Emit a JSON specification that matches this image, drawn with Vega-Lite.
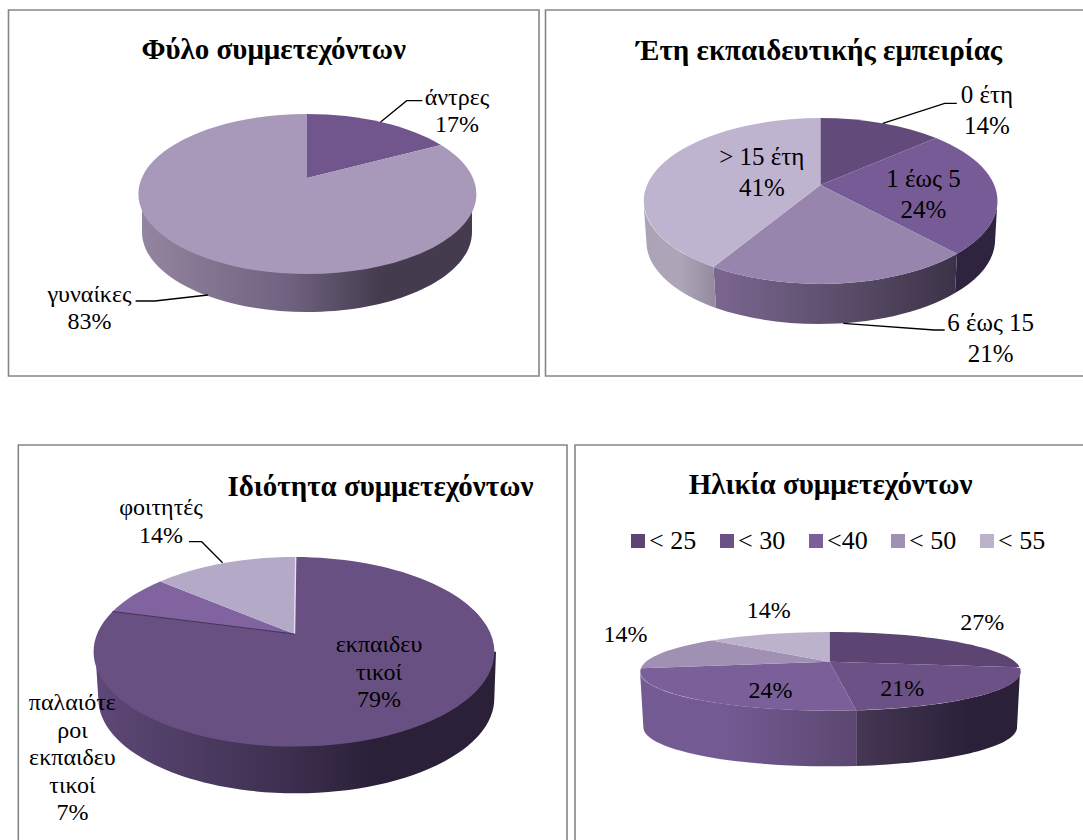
{"$schema":"https://vega.github.io/schema/vega-lite/v6.json","padding":{"left":5,"top":6,"right":0,"bottom":0},"background":"white","spacing":61,"resolve":{"scale":{"shape":"independent","fill":"independent"},"legend":{"fill":"independent","shape":"independent"}},"config":{"view":{"stroke":null},"font":"Liberation Serif","title":{"font":"Liberation Serif","fontSize":29,"fontWeight":"bold","color":"#000000","anchor":"middle","baseline":"alphabetic"},"text":{"font":"Liberation Serif","fontSize":24,"color":"#000000","align":"center","baseline":"alphabetic","lineBreak":"\n"},"point":{"opacity":1,"size":4}},"vconcat":[{"spacing":-3.5,"resolve":{"scale":{"shape":"independent","fill":"independent"},"legend":{"fill":"independent","shape":"independent"}},"hconcat":[{"width":537,"height":368,"title":{"text":"Φύλο συμμετεχόντων","offset":-58,"dx":-2.8},"data":{"values":[{"label":"άντρες","value":17,"text":"άντρες\n17%"},{"label":"γυναίκες","value":83,"text":"γυναίκες\n83%"}]},"layer":[{"transform":[{"filter":{"field":"label","equal":"άντρες"}}],"mark":{"type":"point","filled":false,"stroke":"#868686","strokeWidth":1.6,"shape":"M-268,-183L262.5,-183L262.5,183L-268,183Z"}},{"transform":[{"filter":{"field":"label","equal":"γυναίκες"}}],"mark":{"type":"point","filled":true,"shape":"M-134.5,1L-134.5,39A165,80,0,0,0,195.5,39L195.5,1Z","fill":{"gradient":"linear","x1":0,"y1":0,"x2":1,"y2":0,"stops":[{"offset":0,"color":"#93859f"},{"offset":0.45,"color":"#6f6280"},{"offset":0.72,"color":"#443c4e"},{"offset":1,"color":"#443c4e"}]}}},{"mark":{"type":"point","filled":true},"encoding":{"shape":{"field":"label","type":"nominal","legend":null,"scale":{"domain":["άντρες","γυναίκες"],"range":["M30.5,-15L30.5,-79A169,80,0,0,1,164.5,-48Z","M30.5,-15L164.5,-48A169,80,0,1,1,30.5,-79Z"]}},"fill":{"field":"label","type":"nominal","legend":null,"scale":{"domain":["άντρες","γυναίκες"],"range":["#70568c","#a898ba"]}}}},{"transform":[{"filter":{"field":"label","equal":"άντρες"}}],"mark":{"type":"point","filled":false,"stroke":"#000000","strokeWidth":1.3,"shape":"M104.1,-71L130.2,-92.3L145.8,-92.3"}},{"transform":[{"filter":{"field":"label","equal":"γυναίκες"}}],"mark":{"type":"point","filled":false,"stroke":"#000000","strokeWidth":1.3,"shape":"M-140.9,108L-121.8,108L-68.6,102"}},{"transform":[{"filter":{"field":"label","equal":"άντρες"}}],"mark":{"type":"text","dx":180.5,"dy":-88,"lineHeight":27},"encoding":{"text":{"field":"text"}}},{"transform":[{"filter":{"field":"label","equal":"γυναίκες"}}],"mark":{"type":"text","dx":-187,"dy":109,"lineHeight":27},"encoding":{"text":{"field":"text"}}}]},{"width":538,"height":368,"title":{"text":"Έτη εκπαιδευτικής εμπειρίας","offset":-59,"dx":5.2},"data":{"values":[{"label":"0 έτη","value":14,"text":"0 έτη\n14%"},{"label":"1 έως 5","value":24,"text":"1 έως 5\n24%"},{"label":"6 έως 15","value":21,"text":"6 έως 15\n21%"},{"label":"> 15 έτη","value":41,"text":"> 15 έτη\n41%"}]},"layer":[{"transform":[{"filter":{"field":"label","equal":"0 έτη"}}],"mark":{"type":"point","filled":false,"stroke":"#868686","strokeWidth":1.6,"shape":"M269,-183L-268.5,-183L-268.5,183L269,183"}},{"transform":[{"filter":{"field":"label","equal":"1 έως 5"}}],"mark":{"type":"point","filled":true,"fill":"#2e2440","shape":"M183.4,8A177,83,0,0,1,143,60.8L141,100A174.5,83,0,0,0,181,49Z"}},{"transform":[{"filter":{"field":"label","equal":"6 έως 15"}}],"mark":{"type":"point","filled":true,"shape":"M143,60.8A177,83,0,0,1,-100.5,74L-98,115A174.5,83,0,0,0,141,100Z","fill":{"gradient":"linear","x1":0,"y1":0,"x2":1,"y2":0,"stops":[{"offset":0,"color":"#7b6690"},{"offset":0.5,"color":"#5c4f6c"},{"offset":1,"color":"#3c3247"}]}}},{"transform":[{"filter":{"field":"label","equal":"> 15 έτη"}}],"mark":{"type":"point","filled":true,"shape":"M-100.5,74A177,83,0,0,1,-170.6,8L-167.6,49A174.5,83,0,0,0,-98,115Z","fill":{"gradient":"linear","x1":0,"y1":0,"x2":1,"y2":0,"stops":[{"offset":0,"color":"#aba3b6"},{"offset":0.5,"color":"#aea5b9"},{"offset":1,"color":"#938a9d"}]}}},{"mark":{"type":"point","filled":true},"encoding":{"shape":{"field":"label","type":"nominal","legend":null,"scale":{"domain":["0 έτη","1 έως 5","6 έως 15","> 15 έτη"],"range":["M6.4,-8L6.4,-75A177,83,0,0,1,122,-54.9Z","M6.4,-8L122,-54.9A177,83,0,0,1,143,60.8Z","M6.4,-8L143,60.8A177,83,0,0,1,-100.5,74Z","M6.4,-8L-100.5,74A177,83,0,0,1,6.4,-75Z"]}},"fill":{"field":"label","type":"nominal","legend":null,"scale":{"domain":["0 έτη","1 έως 5","6 έως 15","> 15 έτη"],"range":["#624b7b","#775b96","#9885ae","#bfb4cf"]}}}},{"transform":[{"filter":{"field":"label","equal":"0 έτη"}}],"mark":{"type":"point","filled":false,"stroke":"#000000","strokeWidth":1.3,"shape":"M68.8,-69.7L130.7,-89.7L142.8,-89.7"}},{"transform":[{"filter":{"field":"label","equal":"6 έως 15"}}],"mark":{"type":"point","filled":false,"stroke":"#000000","strokeWidth":1.3,"shape":"M29.2,130.3L120.2,137L130.7,137"}},{"transform":[{"filter":{"field":"label","equal":"0 έτη"}}],"mark":{"type":"text","fontSize":25,"dx":173,"dy":-90,"lineHeight":31},"encoding":{"text":{"field":"text"}}},{"transform":[{"filter":{"field":"label","equal":"1 έως 5"}}],"mark":{"type":"text","fontSize":25,"dx":109.5,"dy":-6,"lineHeight":31},"encoding":{"text":{"field":"text"}}},{"transform":[{"filter":{"field":"label","equal":"6 έως 15"}}],"mark":{"type":"text","fontSize":25,"dx":176.6,"dy":138,"lineHeight":31},"encoding":{"text":{"field":"text"}}},{"transform":[{"filter":{"field":"label","equal":"> 15 έτη"}}],"mark":{"type":"text","fontSize":25,"dx":-52.2,"dy":-28,"lineHeight":31},"encoding":{"text":{"field":"text"}}}]}]},{"spacing":-1,"resolve":{"scale":{"shape":"independent","fill":"independent"},"legend":{"fill":"independent","shape":"independent"}},"hconcat":[{"width":564,"height":396,"title":{"text":"Ιδιότητα συμμετεχόντων","offset":-60,"dx":90.4},"data":{"values":[{"label":"εκπαιδευτικοί","value":79,"text":"εκπαιδευ\nτικοί\n79%"},{"label":"παλαιότεροι εκπαιδευτικοί","value":7,"text":"παλαιότε\nροι\nεκπαιδευ\nτικοί\n7%"},{"label":"φοιτητές","value":14,"text":"φοιτητές\n14%"}]},"layer":[{"transform":[{"filter":{"field":"label","equal":"εκπαιδευτικοί"}}],"mark":{"type":"point","filled":false,"stroke":"#868686","strokeWidth":1.6,"shape":"M-271.7,198L-271.7,-197L277,-197L277,198"}},{"transform":[{"filter":{"field":"label","equal":"εκπαιδευτικοί"}}],"mark":{"type":"point","filled":true,"shape":"M206,9.8L204.3,56.5A198,94.8,0,0,1,-191.7,56.5L-194.7,9.8Z","fill":{"gradient":"linear","x1":0,"y1":0,"x2":1,"y2":0,"stops":[{"offset":0,"color":"#5e4877"},{"offset":0.45,"color":"#3f3152"},{"offset":0.7,"color":"#2a2038"},{"offset":1,"color":"#2a2038"}]}}},{"mark":{"type":"point","filled":true},"encoding":{"shape":{"field":"label","type":"nominal","legend":null,"scale":{"domain":["εκπαιδευτικοί","παλαιότεροι εκπαιδευτικοί","φοιτητές"],"range":["M4.5,-8L5.7,-85A200.4,94.8,0,1,1,-177.4,-30.5Z","M4.5,-8L-177.4,-30.5A200.4,94.8,0,0,1,-129.8,-60.5Z","M4.5,-8L-129.8,-60.5A200.4,94.8,0,0,1,5.7,-85Z"]}},"fill":{"field":"label","type":"nominal","legend":null,"scale":{"domain":["εκπαιδευτικοί","παλαιότεροι εκπαιδευτικοί","φοιτητές"],"range":["#695082","#80639f","#b5a9c8"]}}}},{"transform":[{"filter":{"field":"label","equal":"εκπαιδευτικοί"}}],"mark":{"type":"point","filled":false,"stroke":"#e6e1ee","strokeWidth":1.4,"shape":"M4.5,-8L5.7,-85"}},{"transform":[{"filter":{"field":"label","equal":"παλαιότεροι εκπαιδευτικοί"}}],"mark":{"type":"point","filled":false,"stroke":"#3d2f52","strokeWidth":1,"shape":"M4.5,-8L-177.4,-30.5"}},{"transform":[{"filter":{"field":"label","equal":"φοιτητές"}}],"mark":{"type":"point","filled":false,"stroke":"#000000","strokeWidth":1.3,"shape":"M-101.1,-100.3L-88.3,-100.3L-67.4,-79.3"}},{"transform":[{"filter":{"field":"label","equal":"εκπαιδευτικοί"}}],"mark":{"type":"text","dx":89,"dy":10.3,"lineHeight":27.6},"encoding":{"text":{"field":"text"}}},{"transform":[{"filter":{"field":"label","equal":"παλαιότεροι εκπαιδευτικοί"}}],"mark":{"type":"text","dx":-217.6,"dy":68,"lineHeight":27.6},"encoding":{"text":{"field":"text"}}},{"transform":[{"filter":{"field":"label","equal":"φοιτητές"}}],"mark":{"type":"text","dx":-129,"dy":-127,"lineHeight":27.6},"encoding":{"text":{"field":"text"}}}]},{"width":511,"height":396,"title":{"text":"Ηλικία συμμετεχόντων","offset":-58,"dx":3},"data":{"values":[{"label":"< 25","value":27},{"label":"< 30","value":21},{"label":"<40","value":24},{"label":"< 50","value":14},{"label":"< 55","value":14}]},"layer":[{"transform":[{"filter":{"field":"label","equal":"< 25"}}],"mark":{"type":"point","filled":false,"stroke":"#868686","strokeWidth":1.6,"shape":"M-252.5,198L-252.5,-197L255.5,-197"}},{"transform":[{"filter":{"field":"label","equal":"< 30"}}],"mark":{"type":"point","filled":true,"shape":"M192.5,29A190,39,0,0,1,28.7,68.3L28.7,124A187,39,0,0,0,189.5,85.7Z","fill":{"gradient":"linear","x1":0,"y1":0,"x2":1,"y2":0,"stops":[{"offset":0,"color":"#463754"},{"offset":0.7,"color":"#2a2038"},{"offset":1,"color":"#2a2038"}]}}},{"transform":[{"filter":{"field":"label","equal":"<40"}}],"mark":{"type":"point","filled":true,"shape":"M28.7,68.3A190,39,0,0,1,-187.5,29L-184.1,85.7A187,39,0,0,0,28.7,124Z","fill":{"gradient":"linear","x1":0,"y1":0,"x2":1,"y2":0,"stops":[{"offset":0,"color":"#755b94"},{"offset":0.4,"color":"#735a92"},{"offset":1,"color":"#5b4770"}]}}},{"mark":{"type":"point","filled":true},"encoding":{"shape":{"field":"label","type":"nominal","legend":null,"scale":{"domain":["< 55","< 50","<40","< 30","< 25"],"range":["M2,19.7L-115.7,-1.5A190,39,0,0,1,2,-10Z","M2,19.7L-186.5,26.3A190,39,0,0,1,-115.7,-1.5Z","M2,19.7L28.7,68.3A190,39,0,0,1,-186.5,26.3Z","M2,19.7L192.1,25.3A190,39,0,0,1,28.7,68.3Z","M2,19.7L2,-10A190,39,0,0,1,192.1,25.3Z"]}},"fill":{"field":"label","type":"nominal","legend":{"orient":"none","legendX":53,"legendY":84,"direction":"horizontal","title":null,"symbolType":"square","symbolSize":196,"symbolStrokeWidth":0,"labelFont":"Liberation Serif","labelFontSize":26,"labelColor":"#000000","labelOffset":-2,"columnPadding":17,"symbolOpacity":1},"scale":{"domain":["< 25","< 30","<40","< 50","< 55"],"range":["#5c4473","#6b5186","#7a5f99","#a090b3","#bcb2cb"]}}}},{"transform":[{"filter":{"field":"label","equal":"< 25"}}],"mark":{"type":"text","dx":154.8,"dy":-12},"encoding":{"text":{"value":"27%"}}},{"transform":[{"filter":{"field":"label","equal":"< 30"}}],"mark":{"type":"text","dx":74.7,"dy":54},"encoding":{"text":{"value":"21%"}}},{"transform":[{"filter":{"field":"label","equal":"<40"}}],"mark":{"type":"text","dx":-57,"dy":56.3},"encoding":{"text":{"value":"24%"}}},{"transform":[{"filter":{"field":"label","equal":"< 50"}}],"mark":{"type":"text","dx":-202,"dy":0.3},"encoding":{"text":{"value":"14%"}}},{"transform":[{"filter":{"field":"label","equal":"< 55"}}],"mark":{"type":"text","dx":-58.7,"dy":-23.7},"encoding":{"text":{"value":"14%"}}}]}]}]}
